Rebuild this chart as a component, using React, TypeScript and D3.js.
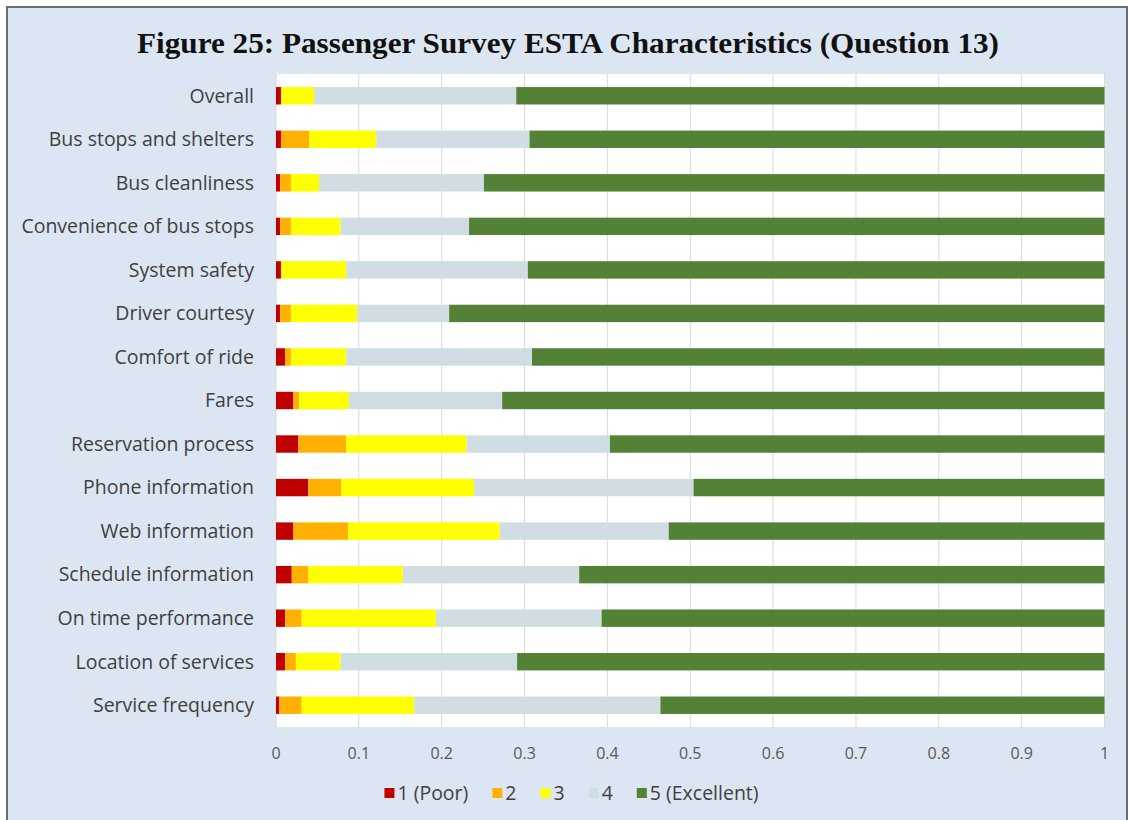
import React, { useEffect, useRef } from "react";
import * as d3 from "d3";

const categories = [
  "Overall",
  "Bus stops and shelters",
  "Bus cleanliness",
  "Convenience of bus stops",
  "System safety",
  "Driver courtesy",
  "Comfort of ride",
  "Fares",
  "Reservation process",
  "Phone information",
  "Web information",
  "Schedule information",
  "On time performance",
  "Location of services",
  "Service frequency",
];

const seriesNames = ["1 (Poor)", "2", "3", "4", "5 (Excellent)"];
const seriesColors = ["#c00000", "#ffb000", "#ffff00", "#d0dde3", "#538135"];

const poor = [0.006, 0.006, 0.005, 0.005, 0.006, 0.005, 0.011, 0.021, 0.027, 0.039, 0.021, 0.019, 0.011, 0.011, 0.004];
const two = [0.0, 0.034, 0.013, 0.013, 0.0, 0.013, 0.007, 0.007, 0.058, 0.040, 0.066, 0.020, 0.020, 0.013, 0.027];
const three = [0.040, 0.081, 0.034, 0.060, 0.079, 0.080, 0.067, 0.060, 0.145, 0.160, 0.183, 0.114, 0.162, 0.054, 0.136];
const four = [0.244, 0.185, 0.199, 0.155, 0.219, 0.111, 0.224, 0.185, 0.173, 0.265, 0.204, 0.213, 0.200, 0.213, 0.297];
const excellent = [0.710, 0.694, 0.749, 0.767, 0.696, 0.791, 0.691, 0.727, 0.597, 0.496, 0.526, 0.634, 0.607, 0.709, 0.536];

const xTicks = [0, 0.1, 0.2, 0.3, 0.4, 0.5, 0.6, 0.7, 0.8, 0.9, 1];

const W = 1129;
const H = 820;
const LABEL_FONT = "'Open Sans', Lato, sans-serif";

export default function App() {
  const ref = useRef<SVGSVGElement | null>(null);

  useEffect(() => {
    const svg = d3.select(ref.current);
    svg.selectAll("*").remove();

    // background frame
    svg.append("rect").attr("x", 0).attr("y", 0).attr("width", W).attr("height", H).attr("fill", "#ffffff");
    svg
      .append("rect")
      .attr("x", 7)
      .attr("y", 7)
      .attr("width", 1120)
      .attr("height", H + 10)
      .attr("fill", "#dce6f2")
      .attr("stroke", "#6b6b6b")
      .attr("stroke-width", 2);

    // title
    svg
      .append("text")
      .attr("x", 568)
      .attr("y", 53)
      .attr("text-anchor", "middle")
      .style("font-family", "'Liberation Serif', 'DejaVu Serif', serif")
      .style("font-weight", "bold")
      .style("font-size", "29px")
      .attr("fill", "#111111")
      .attr("textLength", 862)
      .attr("lengthAdjust", "spacingAndGlyphs")
      .text("Figure 25: Passenger Survey ESTA Characteristics (Question 13)");

    const left = 276;
    const right = 1104.5;
    const top = 74;
    const bottom = 727;

    const x = d3.scaleLinear().domain([0, 1]).range([left, right]);
    const y = d3.scaleBand<string>().domain(categories).range([top, bottom]).paddingInner(0.6).paddingOuter(0.3);

    // plot area
    svg.append("rect").attr("x", left).attr("y", top).attr("width", right - left).attr("height", bottom - top).attr("fill", "#ffffff");

    // gridlines
    svg
      .append("g")
      .selectAll("line")
      .data(xTicks)
      .join("line")
      .attr("x1", (d) => x(d))
      .attr("x2", (d) => x(d))
      .attr("y1", top)
      .attr("y2", bottom)
      .attr("stroke", "#d9d9d9")
      .attr("stroke-width", 1);

    // stacked data
    const table = categories.map((c, i) => ({
      cat: c,
      s0: poor[i],
      s1: two[i],
      s2: three[i],
      s3: four[i],
      s4: excellent[i],
    }));
    const keys = ["s0", "s1", "s2", "s3", "s4"];
    const stacked = d3.stack<any>().keys(keys)(table);

    svg
      .append("g")
      .selectAll("g")
      .data(stacked)
      .join("g")
      .attr("fill", (_d, i) => seriesColors[i])
      .selectAll("rect")
      .data((d) => d)
      .join("rect")
      .attr("x", (d) => x(d[0]))
      .attr("width", (d) => Math.max(0, x(Math.min(1, d[1])) - x(d[0])))
      .attr("y", (d) => y(d.data.cat) as number)
      .attr("height", y.bandwidth());

    // category labels
    svg
      .append("g")
      .selectAll("text")
      .data(categories)
      .join("text")
      .attr("x", 254)
      .attr("y", (d) => (y(d) as number) + y.bandwidth() / 2)
      .attr("dy", "0.35em")
      .attr("text-anchor", "end")
      .style("font-family", LABEL_FONT)
      .style("font-size", "19.5px")
      .attr("fill", "#404040")
      .text((d) => d);

    // x tick labels
    svg
      .append("g")
      .selectAll("text")
      .data(xTicks)
      .join("text")
      .attr("x", (d) => x(d))
      .attr("y", 753)
      .attr("dy", "0.35em")
      .attr("text-anchor", "middle")
      .style("font-family", LABEL_FONT)
      .style("font-size", "16px")
      .attr("fill", "#595959")
      .text((d) => d3.format("~g")(d));

    // legend
    const legend = svg.append("g");
    const legendY = 793;
    const items = legend.selectAll("g").data(seriesNames).join("g");
    items
      .append("rect")
      .attr("width", 10)
      .attr("height", 10)
      .attr("y", legendY - 5)
      .attr("fill", (_d, i) => seriesColors[i]);
    const texts = items
      .append("text")
      .attr("x", 13)
      .attr("y", legendY)
      .attr("dy", "0.35em")
      .style("font-family", LABEL_FONT)
      .style("font-size", "19.5px")
      .attr("fill", "#404040")
      .text((d) => d);
    const widths: number[] = [];
    texts.each(function () {
      widths.push((this as SVGTextElement).getComputedTextLength());
    });
    const gap = 24;
    const itemW = widths.map((w) => 13 + w);
    const total = d3.sum(itemW) + gap * (itemW.length - 1);
    let cx = 571.5 - total / 2;
    items.attr("transform", (_d, i) => {
      const t = `translate(${cx},0)`;
      cx += itemW[i] + gap;
      return t;
    });
  }, []);

  return (
    <svg
      ref={ref}
      width={W}
      height={H}
      style={{ position: "absolute", left: 0, top: 0, display: "block" }}
    />
  );
}
